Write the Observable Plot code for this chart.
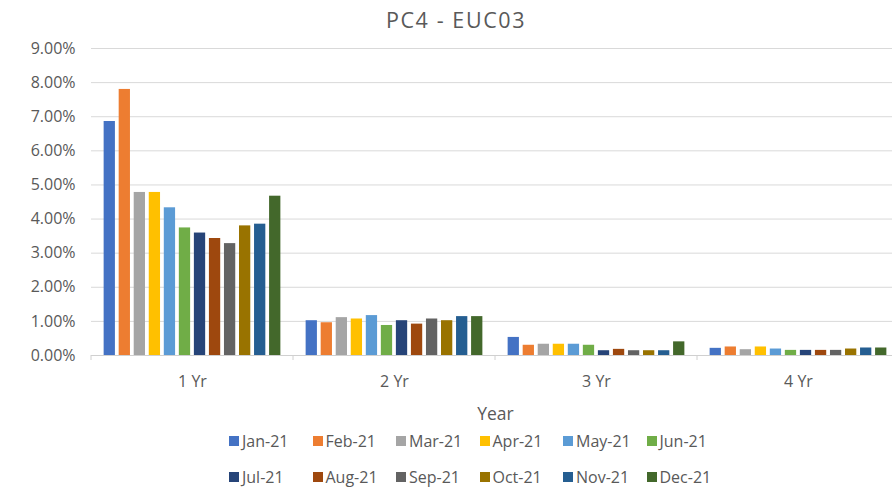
<!DOCTYPE html>
<html>
<head>
<meta charset="utf-8">
<script src="https://cdn.jsdelivr.net/npm/d3@7"></script>
<script src="https://cdn.jsdelivr.net/npm/@observablehq/plot@0.6"></script>
<style>
  html, body { margin: 0; padding: 0; background: #fff; overflow: hidden; }
  body { width: 892px; height: 487px; font-family: "Open Sans", sans-serif; color: #595959; }
  #title { height: 36px; line-height: 40px; text-align: center; font-size: 21.5px; letter-spacing: 1.6px; padding-left: 20px; box-sizing: border-box; }
  #chart { width: 892px; overflow: hidden; }
  #chart svg { display: block; max-width: none !important; }
  #legend { display: grid; grid-template-columns: repeat(6, 83.5px); grid-auto-rows: 36px; margin-left: 229px; margin-top: -3px; font-size: 16px; line-height: 17px; }
  #legend .item { display: flex; align-items: center; white-space: nowrap; }
  #legend .sw { width: 10px; height: 10px; margin-right: 3px; flex: none; }
</style>
</head>
<body>
<div id="title">PC4 - EUC03</div>
<div id="chart"></div>
<div id="legend"></div>
<script>
const years = ["1 Yr", "2 Yr", "3 Yr", "4 Yr"];
const months = ["Jan-21", "Feb-21", "Mar-21", "Apr-21", "May-21", "Jun-21",
                "Jul-21", "Aug-21", "Sep-21", "Oct-21", "Nov-21", "Dec-21"];
// values in percent
const yr1 = [6.86, 7.80, 4.78, 4.78, 4.33, 3.74, 3.59, 3.43, 3.28, 3.80, 3.85, 4.67];
const yr2 = [1.02, 0.96, 1.11, 1.07, 1.17, 0.88, 1.02, 0.92, 1.07, 1.02, 1.14, 1.14];
const yr3 = [0.53, 0.30, 0.33, 0.33, 0.33, 0.30, 0.14, 0.18, 0.14, 0.14, 0.14, 0.40];
const yr4 = [0.21, 0.25, 0.17, 0.25, 0.19, 0.15, 0.15, 0.15, 0.15, 0.19, 0.22, 0.22];
const yTicks = [0, 0.01, 0.02, 0.03, 0.04, 0.05, 0.06, 0.07, 0.08, 0.09];
const colors = ["#4472C4", "#ED7D31", "#A5A5A5", "#FFC000", "#5B9BD5", "#70AD47",
                "#264478", "#9E480E", "#636363", "#997300", "#255E91", "#43682B"];

const series = [yr1, yr2, yr3, yr4];
const data = years.flatMap((y, i) => months.map((m, j) => ({year: y, month: m, value: series[i][j] / 100})));

const chart = Plot.plot({
  width: 900,
  height: 390,
  marginLeft: 91,
  marginRight: 1,
  marginTop: 12,
  marginBottom: 71,
  style: {fontFamily: "Open Sans, sans-serif", fontSize: "16px", color: "#595959", background: "transparent", maxWidth: "none"},
  fx: {domain: years, padding: 0, axis: "bottom", tickSize: 0, tickPadding: 20, label: "Year", labelAnchor: "center", labelOffset: 64},
  x: {domain: months, axis: null, paddingInner: 0.25, paddingOuter: 0.84, round: false},
  y: {domain: [0, 0.09], ticks: yTicks, tickFormat: d3.format(".2%"), tickSize: 0, tickPadding: 16, label: null},
  color: {domain: months, range: colors},
  marks: [
    Plot.ruleY(yTicks.slice(1), {stroke: "#d9d9d9", strokeWidth: 1}),
    Plot.barY(data, {fx: "year", x: "month", y: "value", fill: "month"}),
    Plot.ruleY([0], {stroke: "#d0d0d0", strokeWidth: 1})
  ]
});
document.getElementById("chart").appendChild(chart);

// slightly larger axis title, like the reference
d3.select(chart).selectAll('g[aria-label="fx-axis label"] text').style("font-size", "17.5px");

// category boundary ticks, positioned through the chart's own scales
try {
  const fx = chart.scale("fx");
  const y = chart.scale("y");
  const y0 = y.apply(0);
  const bounds = years.map(d => fx.apply(d)).concat([fx.apply(years[years.length - 1]) + fx.bandwidth]);
  d3.select(chart).append("g")
    .selectAll("line").data(bounds).join("line")
    .attr("x1", d => d).attr("x2", d => d)
    .attr("y1", y0).attr("y2", y0 + 5)
    .attr("stroke", "#d0d0d0");
} catch (e) {}

// legend
const color = chart.scale("color");
const legend = d3.select("#legend");
months.forEach(m => {
  const it = legend.append("div").attr("class", "item");
  it.append("div").attr("class", "sw").style("background", color.apply(m));
  it.append("span").text(m);
});
</script>
</body>
</html>
